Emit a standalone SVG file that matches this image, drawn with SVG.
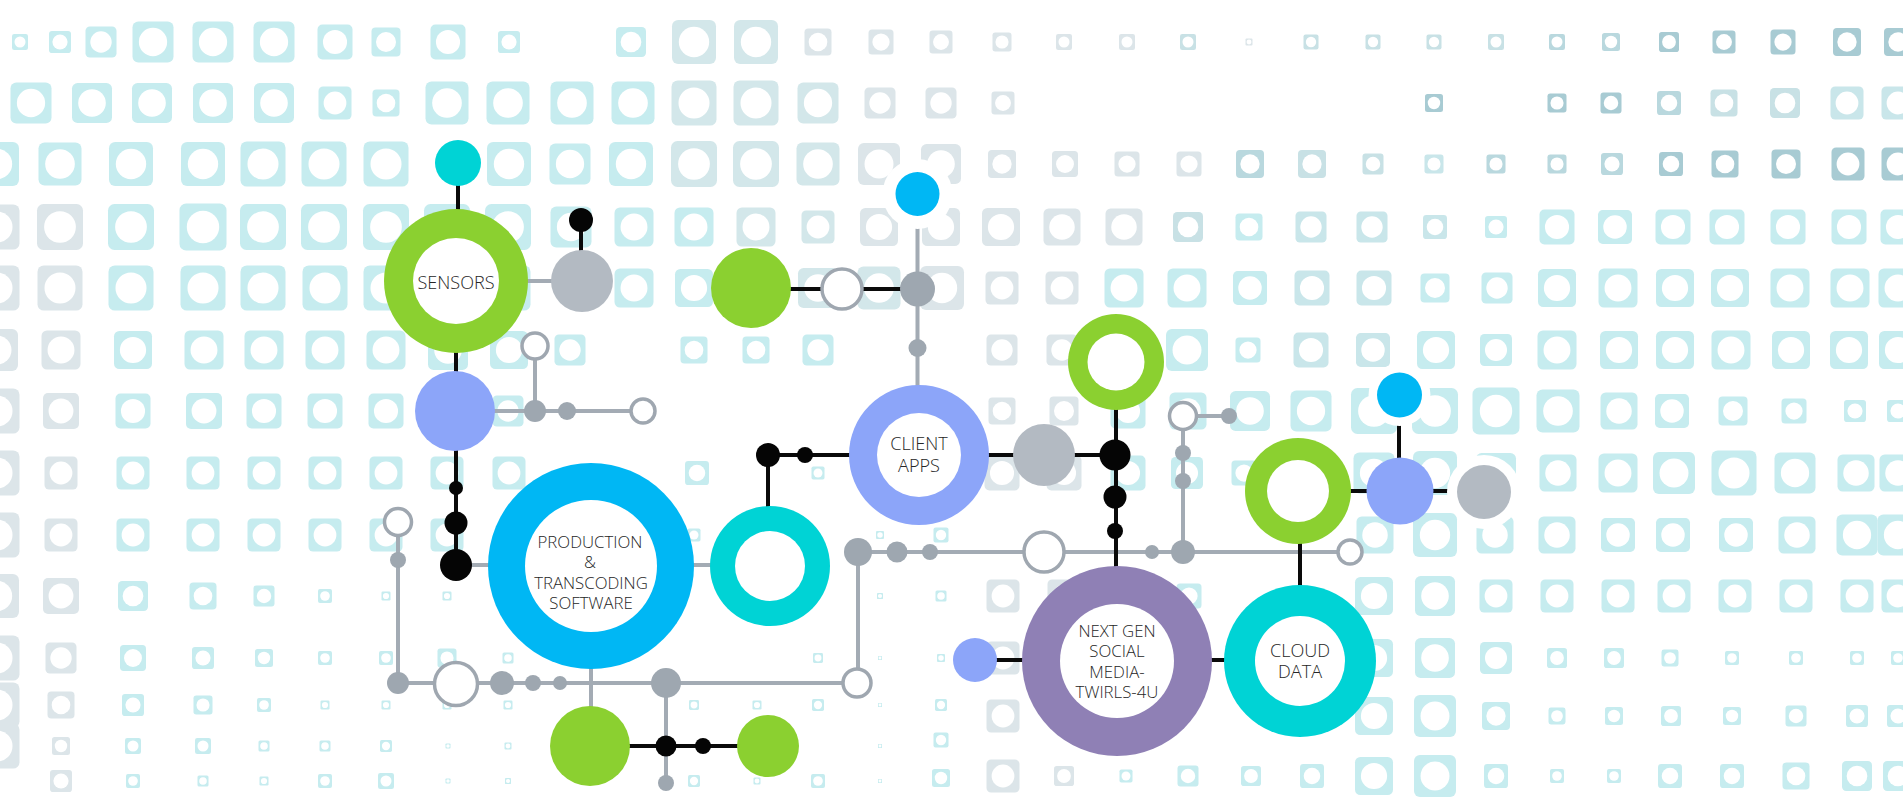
<svg xmlns="http://www.w3.org/2000/svg" xmlns:xlink="http://www.w3.org/1999/xlink" width="1903" height="798" viewBox="0 0 1903 798">
<style>
.a{fill:#c6ecef}.g{fill:#dce5e9}.m{fill:#d3e7ea}.v{fill:#c9e6ea}.t1{fill:#a8cbd3}.t2{fill:#b9d8de}.t3{fill:#c8e1e5}
.bk{stroke:#0a0a0a;stroke-width:4;fill:none}
.gy{stroke:#a3abb4;stroke-width:4;fill:none}
.hol{fill:#fff;stroke:#9fa7b0;stroke-width:3.5}
.gd{fill:#9ea7b0}.gn{fill:#b3bac2}.bd{fill:#050505}
.grn{fill:#8bd030}.cy{fill:#00d3d5}.bl{fill:#00b7f4}.pw{fill:#8ca5f9}.pu{fill:#8f80b5}.wh{fill:#fff}
.lbl{font-family:"Open Sans","Liberation Sans",sans-serif;font-weight:300;font-size:18.1px;fill:#262626;text-anchor:middle}
.sm{font-size:16.8px}
</style>
<defs>
<g id="q"><rect x="-.5" y="-.5" width="1" height="1" rx=".14"/><circle r=".345" fill="#fff"/></g>
</defs>
<rect width="1903" height="798" fill="#fff"/>
<g id="background">
<!-- row A -->
<use href="#q" class="a" transform="translate(20 42) scale(16)"/>
<use href="#q" class="a" transform="translate(60 42) scale(22)"/>
<use href="#q" class="a" transform="translate(101 42) scale(31)"/>
<use href="#q" class="a" transform="translate(153 42) scale(41)"/>
<use href="#q" class="a" transform="translate(213 42) scale(41)"/>
<use href="#q" class="a" transform="translate(274 42) scale(41)"/>
<use href="#q" class="a" transform="translate(335 42) scale(35)"/>
<use href="#q" class="a" transform="translate(386 42) scale(29)"/>
<use href="#q" class="a" transform="translate(448 42) scale(35)"/>
<use href="#q" class="a" transform="translate(509 42) scale(22)"/>
<use href="#q" class="a" transform="translate(631 42) scale(30)"/>
<use href="#q" class="m" transform="translate(694 42) scale(44)"/>
<use href="#q" class="m" transform="translate(756 42) scale(44)"/>
<use href="#q" class="g" transform="translate(818 42) scale(27)"/>
<use href="#q" class="g" transform="translate(881 42) scale(25)"/>
<use href="#q" class="g" transform="translate(941 42) scale(23)"/>
<use href="#q" class="g" transform="translate(1002 42) scale(19)"/>
<use href="#q" class="g" transform="translate(1064 42) scale(16)"/>
<use href="#q" class="g" transform="translate(1127 42) scale(16)"/>
<use href="#q" class="t3" transform="translate(1188 42) scale(16)"/>
<use href="#q" class="g" transform="translate(1249 42) scale(7)"/>
<use href="#q" class="t3" transform="translate(1311 42) scale(15)"/>
<use href="#q" class="t3" transform="translate(1373 42) scale(15)"/>
<use href="#q" class="t3" transform="translate(1434 42) scale(15)"/>
<use href="#q" class="t3" transform="translate(1496 42) scale(16)"/>
<use href="#q" class="t2" transform="translate(1557 42) scale(16)"/>
<use href="#q" class="t2" transform="translate(1611 42) scale(18)"/>
<use href="#q" class="t1" transform="translate(1669 42) scale(20)"/>
<use href="#q" class="t1" transform="translate(1724 42) scale(23)"/>
<use href="#q" class="t1" transform="translate(1783 42) scale(25)"/>
<use href="#q" class="t1" transform="translate(1847 42) scale(28)"/>
<use href="#q" class="t1" transform="translate(1898 42) scale(28)"/>
<!-- row B -->
<use href="#q" class="a" transform="translate(31 103) scale(41)"/>
<use href="#q" class="a" transform="translate(92 103) scale(40)"/>
<use href="#q" class="a" transform="translate(152 103) scale(40)"/>
<use href="#q" class="a" transform="translate(213 103) scale(40)"/>
<use href="#q" class="a" transform="translate(274 103) scale(40)"/>
<use href="#q" class="a" transform="translate(335 103) scale(33)"/>
<use href="#q" class="a" transform="translate(386 103) scale(27)"/>
<use href="#q" class="a" transform="translate(447 103) scale(43)"/>
<use href="#q" class="a" transform="translate(508 103) scale(43)"/>
<use href="#q" class="a" transform="translate(572 103) scale(43)"/>
<use href="#q" class="a" transform="translate(633 103) scale(43)"/>
<use href="#q" class="m" transform="translate(694 103) scale(45)"/>
<use href="#q" class="m" transform="translate(756 103) scale(45)"/>
<use href="#q" class="m" transform="translate(818 103) scale(41)"/>
<use href="#q" class="g" transform="translate(880 103) scale(31)"/>
<use href="#q" class="g" transform="translate(941 103) scale(31)"/>
<use href="#q" class="g" transform="translate(1003 103) scale(23)"/>
<use href="#q" class="t1" transform="translate(1434 103) scale(18)"/>
<use href="#q" class="t1" transform="translate(1557 103) scale(19)"/>
<use href="#q" class="t1" transform="translate(1611 103) scale(21)"/>
<use href="#q" class="t2" transform="translate(1669 103) scale(24)"/>
<use href="#q" class="t3" transform="translate(1724 103) scale(27)"/>
<use href="#q" class="t3" transform="translate(1785 103) scale(30)"/>
<use href="#q" class="v" transform="translate(1847 103) scale(33)"/>
<use href="#q" class="v" transform="translate(1898 103) scale(33)"/>
<!-- row C -->
<use href="#q" class="a" transform="translate(-3 164) scale(44)"/>
<use href="#q" class="a" transform="translate(60 164) scale(43)"/>
<use href="#q" class="a" transform="translate(131 164) scale(44)"/>
<use href="#q" class="a" transform="translate(203 164) scale(44)"/>
<use href="#q" class="a" transform="translate(263 164) scale(45)"/>
<use href="#q" class="a" transform="translate(324 164) scale(45)"/>
<use href="#q" class="a" transform="translate(386 164) scale(45)"/>
<use href="#q" class="a" transform="translate(509 164) scale(44)"/>
<use href="#q" class="a" transform="translate(570 164) scale(41)"/>
<use href="#q" class="a" transform="translate(631 164) scale(44)"/>
<use href="#q" class="m" transform="translate(694 164) scale(46)"/>
<use href="#q" class="m" transform="translate(756 164) scale(46)"/>
<use href="#q" class="m" transform="translate(818 164) scale(43)"/>
<use href="#q" class="g" transform="translate(879 164) scale(42)"/>
<use href="#q" class="g" transform="translate(941 164) scale(40)"/>
<use href="#q" class="g" transform="translate(1002 164) scale(28)"/>
<use href="#q" class="g" transform="translate(1065 164) scale(26)"/>
<use href="#q" class="g" transform="translate(1127 164) scale(25)"/>
<use href="#q" class="g" transform="translate(1189 164) scale(25)"/>
<use href="#q" class="t2" transform="translate(1250 164) scale(28)"/>
<use href="#q" class="t3" transform="translate(1312 164) scale(28)"/>
<use href="#q" class="t3" transform="translate(1373 164) scale(21)"/>
<use href="#q" class="v" transform="translate(1434 164) scale(19)"/>
<use href="#q" class="t2" transform="translate(1496 164) scale(19)"/>
<use href="#q" class="t2" transform="translate(1557 164) scale(19)"/>
<use href="#q" class="t2" transform="translate(1612 164) scale(22)"/>
<use href="#q" class="t1" transform="translate(1671 164) scale(24)"/>
<use href="#q" class="t1" transform="translate(1725 164) scale(27)"/>
<use href="#q" class="t1" transform="translate(1786 164) scale(29)"/>
<use href="#q" class="t1" transform="translate(1848 164) scale(33)"/>
<use href="#q" class="t1" transform="translate(1898 164) scale(33)"/>
<!-- row D -->
<use href="#q" class="g" transform="translate(-3 227) scale(45)"/>
<use href="#q" class="g" transform="translate(60 227) scale(46)"/>
<use href="#q" class="a" transform="translate(131 227) scale(46)"/>
<use href="#q" class="a" transform="translate(203 227) scale(47)"/>
<use href="#q" class="a" transform="translate(263 227) scale(46)"/>
<use href="#q" class="a" transform="translate(324 227) scale(46)"/>
<use href="#q" class="a" transform="translate(386 227) scale(46)"/>
<use href="#q" class="a" transform="translate(447 227) scale(46)"/>
<use href="#q" class="a" transform="translate(508 227) scale(46)"/>
<use href="#q" class="a" transform="translate(571 227) scale(41)"/>
<use href="#q" class="a" transform="translate(634 227) scale(39)"/>
<use href="#q" class="a" transform="translate(694 227) scale(39)"/>
<use href="#q" class="m" transform="translate(756 227) scale(39)"/>
<use href="#q" class="m" transform="translate(818 227) scale(33)"/>
<use href="#q" class="g" transform="translate(879 227) scale(38)"/>
<use href="#q" class="g" transform="translate(941 227) scale(38)"/>
<use href="#q" class="g" transform="translate(1001 227) scale(38)"/>
<use href="#q" class="g" transform="translate(1062 227) scale(37)"/>
<use href="#q" class="g" transform="translate(1124 227) scale(37)"/>
<use href="#q" class="t3" transform="translate(1188 227) scale(30)"/>
<use href="#q" class="a" transform="translate(1249 227) scale(27)"/>
<use href="#q" class="v" transform="translate(1311 227) scale(31)"/>
<use href="#q" class="v" transform="translate(1372 227) scale(31)"/>
<use href="#q" class="v" transform="translate(1435 227) scale(24)"/>
<use href="#q" class="a" transform="translate(1496 227) scale(22)"/>
<use href="#q" class="a" transform="translate(1557 227) scale(35)"/>
<use href="#q" class="a" transform="translate(1615 227) scale(34)"/>
<use href="#q" class="a" transform="translate(1673 227) scale(35)"/>
<use href="#q" class="a" transform="translate(1727 227) scale(35)"/>
<use href="#q" class="a" transform="translate(1788 227) scale(35)"/>
<use href="#q" class="a" transform="translate(1849 227) scale(35)"/>
<use href="#q" class="a" transform="translate(1898 227) scale(35)"/>
<!-- row E -->
<use href="#q" class="g" transform="translate(-3 288) scale(45)"/>
<use href="#q" class="g" transform="translate(60 288) scale(45)"/>
<use href="#q" class="a" transform="translate(131 288) scale(45)"/>
<use href="#q" class="a" transform="translate(203 288) scale(45)"/>
<use href="#q" class="a" transform="translate(263 288) scale(45)"/>
<use href="#q" class="a" transform="translate(325 288) scale(45)"/>
<use href="#q" class="a" transform="translate(386 288) scale(45)"/>
<use href="#q" class="a" transform="translate(508 288) scale(45)"/>
<use href="#q" class="a" transform="translate(634 288) scale(39)"/>
<use href="#q" class="a" transform="translate(694 288) scale(38)"/>
<use href="#q" class="m" transform="translate(818 288) scale(40)"/>
<use href="#q" class="m" transform="translate(879 288) scale(43)"/>
<use href="#q" class="g" transform="translate(942 288) scale(44)"/>
<use href="#q" class="g" transform="translate(1002 288) scale(33)"/>
<use href="#q" class="g" transform="translate(1062 288) scale(33)"/>
<use href="#q" class="a" transform="translate(1124 288) scale(39)"/>
<use href="#q" class="a" transform="translate(1187 288) scale(39)"/>
<use href="#q" class="a" transform="translate(1250 288) scale(34)"/>
<use href="#q" class="v" transform="translate(1312 288) scale(35)"/>
<use href="#q" class="v" transform="translate(1374 288) scale(35)"/>
<use href="#q" class="a" transform="translate(1435 288) scale(29)"/>
<use href="#q" class="a" transform="translate(1497 288) scale(31)"/>
<use href="#q" class="a" transform="translate(1557 288) scale(38)"/>
<use href="#q" class="a" transform="translate(1618 288) scale(39)"/>
<use href="#q" class="a" transform="translate(1675 288) scale(38)"/>
<use href="#q" class="a" transform="translate(1730 288) scale(38)"/>
<use href="#q" class="a" transform="translate(1790 288) scale(39)"/>
<use href="#q" class="a" transform="translate(1850 288) scale(39)"/>
<use href="#q" class="a" transform="translate(1898 288) scale(39)"/>
<!-- row F -->
<use href="#q" class="g" transform="translate(-3 350) scale(42)"/>
<use href="#q" class="g" transform="translate(61 350) scale(39)"/>
<use href="#q" class="a" transform="translate(133 350) scale(38)"/>
<use href="#q" class="a" transform="translate(204 350) scale(39)"/>
<use href="#q" class="a" transform="translate(264 350) scale(39)"/>
<use href="#q" class="a" transform="translate(325 350) scale(39)"/>
<use href="#q" class="a" transform="translate(386 350) scale(39)"/>
<use href="#q" class="a" transform="translate(448 350) scale(40)"/>
<use href="#q" class="a" transform="translate(509 350) scale(38)"/>
<use href="#q" class="a" transform="translate(570 350) scale(31)"/>
<use href="#q" class="a" transform="translate(694 350) scale(27)"/>
<use href="#q" class="a" transform="translate(756 350) scale(27)"/>
<use href="#q" class="a" transform="translate(818 350) scale(31)"/>
<use href="#q" class="g" transform="translate(1002 350) scale(31)"/>
<use href="#q" class="g" transform="translate(1062 350) scale(31)"/>
<use href="#q" class="a" transform="translate(1187 350) scale(42)"/>
<use href="#q" class="a" transform="translate(1248 350) scale(25)"/>
<use href="#q" class="v" transform="translate(1311 350) scale(35)"/>
<use href="#q" class="v" transform="translate(1373 350) scale(34)"/>
<use href="#q" class="a" transform="translate(1436 350) scale(38)"/>
<use href="#q" class="a" transform="translate(1496 350) scale(32)"/>
<use href="#q" class="a" transform="translate(1557 350) scale(39)"/>
<use href="#q" class="a" transform="translate(1619 350) scale(38)"/>
<use href="#q" class="a" transform="translate(1675 350) scale(38)"/>
<use href="#q" class="a" transform="translate(1731 350) scale(39)"/>
<use href="#q" class="a" transform="translate(1791 350) scale(38)"/>
<use href="#q" class="a" transform="translate(1849 350) scale(38)"/>
<use href="#q" class="a" transform="translate(1898 350) scale(38)"/>
<!-- row G -->
<use href="#q" class="g" transform="translate(-3 411) scale(45)"/>
<use href="#q" class="g" transform="translate(61 411) scale(36)"/>
<use href="#q" class="a" transform="translate(133 411) scale(35)"/>
<use href="#q" class="a" transform="translate(204 411) scale(36)"/>
<use href="#q" class="a" transform="translate(264 411) scale(35)"/>
<use href="#q" class="a" transform="translate(325 411) scale(35)"/>
<use href="#q" class="a" transform="translate(386 411) scale(35)"/>
<use href="#q" class="a" transform="translate(508 411) scale(31)"/>
<use href="#q" class="g" transform="translate(1002 411) scale(27)"/>
<use href="#q" class="g" transform="translate(1064 411) scale(29)"/>
<use href="#q" class="a" transform="translate(1128 411) scale(35)"/>
<use href="#q" class="a" transform="translate(1188 411) scale(37)"/>
<use href="#q" class="a" transform="translate(1250 411) scale(40)"/>
<use href="#q" class="a" transform="translate(1311 411) scale(41)"/>
<use href="#q" class="a" transform="translate(1374 411) scale(46)"/>
<use href="#q" class="a" transform="translate(1435 411) scale(46)"/>
<use href="#q" class="a" transform="translate(1496 411) scale(47)"/>
<use href="#q" class="a" transform="translate(1558 411) scale(43)"/>
<use href="#q" class="a" transform="translate(1619 411) scale(37)"/>
<use href="#q" class="a" transform="translate(1672 411) scale(34)"/>
<use href="#q" class="a" transform="translate(1733 411) scale(29)"/>
<use href="#q" class="a" transform="translate(1794 411) scale(25)"/>
<use href="#q" class="a" transform="translate(1855 411) scale(22)"/>
<use href="#q" class="a" transform="translate(1898 411) scale(22)"/>
<!-- row H -->
<use href="#q" class="g" transform="translate(-3 473) scale(45)"/>
<use href="#q" class="g" transform="translate(61 473) scale(33)"/>
<use href="#q" class="a" transform="translate(133 473) scale(33)"/>
<use href="#q" class="a" transform="translate(203 473) scale(33)"/>
<use href="#q" class="a" transform="translate(264 473) scale(33)"/>
<use href="#q" class="a" transform="translate(325 473) scale(33)"/>
<use href="#q" class="a" transform="translate(386 473) scale(33)"/>
<use href="#q" class="a" transform="translate(447 473) scale(33)"/>
<use href="#q" class="a" transform="translate(509 473) scale(33)"/>
<use href="#q" class="a" transform="translate(697 473) scale(24)"/>
<use href="#q" class="a" transform="translate(818 473) scale(13)"/>
<use href="#q" class="g" transform="translate(1002 473) scale(35)"/>
<use href="#q" class="g" transform="translate(1064 473) scale(35)"/>
<use href="#q" class="a" transform="translate(1128 473) scale(35)"/>
<use href="#q" class="a" transform="translate(1187 473) scale(32)"/>
<use href="#q" class="a" transform="translate(1244 473) scale(25)"/>
<use href="#q" class="a" transform="translate(1374 473) scale(41)"/>
<use href="#q" class="a" transform="translate(1435 473) scale(44)"/>
<use href="#q" class="a" transform="translate(1496 473) scale(40)"/>
<use href="#q" class="a" transform="translate(1558 473) scale(37)"/>
<use href="#q" class="a" transform="translate(1618 473) scale(39)"/>
<use href="#q" class="a" transform="translate(1674 473) scale(42)"/>
<use href="#q" class="a" transform="translate(1734 473) scale(45)"/>
<use href="#q" class="a" transform="translate(1795 473) scale(41)"/>
<use href="#q" class="a" transform="translate(1856 473) scale(37)"/>
<use href="#q" class="a" transform="translate(1898 473) scale(37)"/>
<!-- row I -->
<use href="#q" class="g" transform="translate(-3 535) scale(45)"/>
<use href="#q" class="g" transform="translate(61 535) scale(33)"/>
<use href="#q" class="a" transform="translate(133 535) scale(33)"/>
<use href="#q" class="a" transform="translate(203 535) scale(33)"/>
<use href="#q" class="a" transform="translate(264 535) scale(33)"/>
<use href="#q" class="a" transform="translate(325 535) scale(33)"/>
<use href="#q" class="a" transform="translate(386 535) scale(33)"/>
<use href="#q" class="a" transform="translate(447 535) scale(33)"/>
<use href="#q" class="a" transform="translate(694 535) scale(13)"/>
<use href="#q" class="a" transform="translate(880 535) scale(8)"/>
<use href="#q" class="a" transform="translate(941 535) scale(15)"/>
<use href="#q" class="a" transform="translate(1375 535) scale(37)"/>
<use href="#q" class="a" transform="translate(1435 535) scale(44)"/>
<use href="#q" class="a" transform="translate(1495 535) scale(37)"/>
<use href="#q" class="a" transform="translate(1557 535) scale(37)"/>
<use href="#q" class="a" transform="translate(1618 535) scale(34)"/>
<use href="#q" class="a" transform="translate(1673 535) scale(34)"/>
<use href="#q" class="a" transform="translate(1736 535) scale(34)"/>
<use href="#q" class="a" transform="translate(1797 535) scale(37)"/>
<use href="#q" class="a" transform="translate(1857 535) scale(41)"/>
<use href="#q" class="a" transform="translate(1898 535) scale(41)"/>
<!-- row J -->
<use href="#q" class="g" transform="translate(-3 596) scale(44)"/>
<use href="#q" class="g" transform="translate(61 596) scale(36)"/>
<use href="#q" class="a" transform="translate(133 596) scale(30)"/>
<use href="#q" class="a" transform="translate(203 596) scale(27)"/>
<use href="#q" class="a" transform="translate(264 596) scale(21)"/>
<use href="#q" class="a" transform="translate(325 596) scale(14)"/>
<use href="#q" class="a" transform="translate(386 596) scale(9)"/>
<use href="#q" class="a" transform="translate(447 596) scale(9)"/>
<use href="#q" class="a" transform="translate(880 596) scale(6)"/>
<use href="#q" class="a" transform="translate(941 596) scale(11)"/>
<use href="#q" class="g" transform="translate(1003 596) scale(33)"/>
<use href="#q" class="g" transform="translate(1064 596) scale(33)"/>
<use href="#q" class="a" transform="translate(1189 596) scale(25)"/>
<use href="#q" class="a" transform="translate(1374 596) scale(38)"/>
<use href="#q" class="a" transform="translate(1435 596) scale(40)"/>
<use href="#q" class="a" transform="translate(1496 596) scale(33)"/>
<use href="#q" class="a" transform="translate(1557 596) scale(33)"/>
<use href="#q" class="a" transform="translate(1618 596) scale(33)"/>
<use href="#q" class="a" transform="translate(1674 596) scale(33)"/>
<use href="#q" class="a" transform="translate(1735 596) scale(33)"/>
<use href="#q" class="a" transform="translate(1796 596) scale(33)"/>
<use href="#q" class="a" transform="translate(1857 596) scale(33)"/>
<use href="#q" class="a" transform="translate(1898 596) scale(33)"/>
<!-- row K -->
<use href="#q" class="g" transform="translate(-3 658) scale(45)"/>
<use href="#q" class="g" transform="translate(61 658) scale(31)"/>
<use href="#q" class="a" transform="translate(133 658) scale(26)"/>
<use href="#q" class="a" transform="translate(203 658) scale(22)"/>
<use href="#q" class="a" transform="translate(264 658) scale(18)"/>
<use href="#q" class="a" transform="translate(325 658) scale(14)"/>
<use href="#q" class="a" transform="translate(386 658) scale(14)"/>
<use href="#q" class="a" transform="translate(447 658) scale(19)"/>
<use href="#q" class="a" transform="translate(508 658) scale(11)"/>
<use href="#q" class="a" transform="translate(818 658) scale(10)"/>
<use href="#q" class="a" transform="translate(880 658) scale(4)"/>
<use href="#q" class="a" transform="translate(941 658) scale(8)"/>
<use href="#q" class="g" transform="translate(1003 658) scale(33)"/>
<use href="#q" class="a" transform="translate(1374 658) scale(38)"/>
<use href="#q" class="a" transform="translate(1435 658) scale(40)"/>
<use href="#q" class="a" transform="translate(1496 658) scale(32)"/>
<use href="#q" class="a" transform="translate(1557 658) scale(20)"/>
<use href="#q" class="a" transform="translate(1614 658) scale(20)"/>
<use href="#q" class="a" transform="translate(1670 658) scale(17)"/>
<use href="#q" class="a" transform="translate(1732 658) scale(14)"/>
<use href="#q" class="a" transform="translate(1796 658) scale(14)"/>
<use href="#q" class="a" transform="translate(1857 658) scale(14)"/>
<use href="#q" class="a" transform="translate(1898 658) scale(14)"/>
<!-- row L left -->
<use href="#q" class="g" transform="translate(-3 705) scale(45)"/>
<use href="#q" class="g" transform="translate(61 705) scale(27)"/>
<use href="#q" class="a" transform="translate(133 705) scale(22)"/>
<use href="#q" class="a" transform="translate(203 705) scale(19)"/>
<use href="#q" class="a" transform="translate(264 705) scale(14)"/>
<use href="#q" class="a" transform="translate(325 705) scale(9)"/>
<use href="#q" class="a" transform="translate(386 705) scale(9)"/>
<use href="#q" class="a" transform="translate(447 705) scale(9)"/>
<use href="#q" class="a" transform="translate(508 705) scale(9)"/>
<use href="#q" class="a" transform="translate(694 705) scale(10)"/>
<use href="#q" class="a" transform="translate(757 705) scale(9)"/>
<use href="#q" class="a" transform="translate(818 705) scale(12)"/>
<use href="#q" class="a" transform="translate(880 705) scale(4)"/>
<use href="#q" class="a" transform="translate(941 705) scale(12)"/>
<!-- row M left -->
<use href="#q" class="g" transform="translate(-3 746) scale(45)"/>
<use href="#q" class="g" transform="translate(61 746) scale(18)"/>
<use href="#q" class="a" transform="translate(133 746) scale(16)"/>
<use href="#q" class="a" transform="translate(203 746) scale(16)"/>
<use href="#q" class="a" transform="translate(264 746) scale(11)"/>
<use href="#q" class="a" transform="translate(325 746) scale(11)"/>
<use href="#q" class="a" transform="translate(386 746) scale(12)"/>
<use href="#q" class="a" transform="translate(448 746) scale(5)"/>
<use href="#q" class="a" transform="translate(508 746) scale(7)"/>
<use href="#q" class="a" transform="translate(880 746) scale(4)"/>
<use href="#q" class="a" transform="translate(941 740) scale(15)"/>
<!-- row N left -->
<use href="#q" class="g" transform="translate(61 781) scale(22)"/>
<use href="#q" class="a" transform="translate(133 781) scale(14)"/>
<use href="#q" class="a" transform="translate(203 781) scale(11)"/>
<use href="#q" class="a" transform="translate(264 781) scale(9)"/>
<use href="#q" class="a" transform="translate(325 781) scale(14)"/>
<use href="#q" class="a" transform="translate(386 781) scale(16)"/>
<use href="#q" class="a" transform="translate(448 781) scale(5)"/>
<use href="#q" class="a" transform="translate(508 781) scale(6)"/>
<use href="#q" class="a" transform="translate(694 781) scale(12)"/>
<use href="#q" class="a" transform="translate(757 781) scale(7)"/>
<use href="#q" class="a" transform="translate(818 781) scale(14)"/>
<use href="#q" class="a" transform="translate(880 781) scale(4)"/>
<use href="#q" class="a" transform="translate(941 778) scale(18)"/>
<!-- bottom right rows -->
<use href="#q" class="g" transform="translate(1003 716) scale(33)"/>
<use href="#q" class="a" transform="translate(1374 716) scale(38)"/>
<use href="#q" class="a" transform="translate(1435 716) scale(42)"/>
<use href="#q" class="a" transform="translate(1496 716) scale(28)"/>
<use href="#q" class="a" transform="translate(1557 716) scale(17)"/>
<use href="#q" class="a" transform="translate(1614 716) scale(18)"/>
<use href="#q" class="a" transform="translate(1671 716) scale(20)"/>
<use href="#q" class="a" transform="translate(1732 716) scale(18)"/>
<use href="#q" class="a" transform="translate(1796 716) scale(21)"/>
<use href="#q" class="a" transform="translate(1857 716) scale(22)"/>
<use href="#q" class="a" transform="translate(1898 716) scale(22)"/>
<use href="#q" class="g" transform="translate(1003 776) scale(33)"/>
<use href="#q" class="g" transform="translate(1064 776) scale(20)"/>
<use href="#q" class="a" transform="translate(1126 776) scale(13)"/>
<use href="#q" class="a" transform="translate(1188 776) scale(21)"/>
<use href="#q" class="a" transform="translate(1251 776) scale(20)"/>
<use href="#q" class="a" transform="translate(1312 776) scale(24)"/>
<use href="#q" class="a" transform="translate(1374 776) scale(38)"/>
<use href="#q" class="a" transform="translate(1435 776) scale(42)"/>
<use href="#q" class="a" transform="translate(1496 776) scale(24)"/>
<use href="#q" class="a" transform="translate(1557 776) scale(14)"/>
<use href="#q" class="a" transform="translate(1614 776) scale(14)"/>
<use href="#q" class="a" transform="translate(1670 776) scale(24)"/>
<use href="#q" class="a" transform="translate(1732 776) scale(24)"/>
<use href="#q" class="a" transform="translate(1796 776) scale(27)"/>
<use href="#q" class="a" transform="translate(1857 776) scale(30)"/>
<use href="#q" class="a" transform="translate(1898 776) scale(30)"/>
</g>
<g id="connectors">
<g class="gy">
<line x1="456" y1="281" x2="582" y2="281"/>
<line x1="455" y1="411" x2="643" y2="411"/>
<line x1="535" y1="346" x2="535" y2="411"/>
<line x1="456" y1="565" x2="770" y2="565"/>
<line x1="398" y1="522" x2="398" y2="683"/>
<line x1="398" y1="683" x2="857" y2="683"/>
<line x1="591" y1="566" x2="591" y2="746"/>
<line x1="666" y1="683" x2="666" y2="783"/>
<line x1="917.5" y1="194" x2="917.5" y2="455"/>
<line x1="858" y1="552" x2="1350" y2="552"/>
<line x1="858" y1="552" x2="858" y2="683"/>
<line x1="1183" y1="416" x2="1183" y2="552"/>
<line x1="1183" y1="416" x2="1229" y2="416"/>
</g>
<g class="bk">
<line x1="458" y1="163" x2="458" y2="281"/>
<line x1="456" y1="281" x2="456" y2="565"/>
<line x1="581" y1="220" x2="581" y2="281"/>
<line x1="751" y1="289" x2="917.5" y2="289"/>
<line x1="768" y1="455" x2="1115" y2="455"/>
<line x1="768" y1="455" x2="768" y2="566"/>
<line x1="1116" y1="362" x2="1116" y2="661"/>
<line x1="975" y1="660" x2="1300" y2="660"/>
<line x1="1300" y1="491" x2="1300" y2="661"/>
<line x1="1298" y1="491" x2="1483" y2="491"/>
<line x1="1399" y1="394" x2="1399" y2="491"/>
<line x1="590" y1="746" x2="768" y2="746"/>
</g>
</g>
<g id="n-sensors-top"><circle class="cy" cx="458" cy="163" r="23"/></g>
<g id="n-sensors"><circle class="grn" cx="456" cy="281" r="72"/><circle class="wh" cx="456" cy="281" r="43"/><text class="lbl" x="456" y="288.5">SENSORS</text></g>
<g id="n-b1"><circle class="bd" cx="581" cy="220" r="12"/></g>
<g id="n-g1"><circle class="gn" cx="582" cy="281" r="31"/></g>
<g id="n-w1"><circle class="hol" cx="535" cy="346" r="13"/></g>
<g id="n-p1"><circle class="pw" cx="455" cy="411" r="40"/></g>
<g id="n-d1"><circle class="gd" cx="535" cy="411" r="11"/><circle class="gd" cx="567" cy="411" r="9"/></g>
<g id="n-w2"><circle class="hol" cx="643" cy="411" r="12"/></g>
<g id="n-bd-chain"><circle class="bd" cx="456" cy="488" r="7"/><circle class="bd" cx="456" cy="523" r="11.5"/><circle class="bd" cx="456" cy="565" r="16"/></g>
<g id="n-production"><circle class="bl" cx="591" cy="566" r="103"/><circle class="wh" cx="591" cy="566" r="66"/>
<text class="lbl sm" x="590" y="547.5">PRODUCTION</text><text class="lbl sm" x="590" y="568">&amp;</text><text class="lbl sm" x="591" y="588.5">TRANSCODING</text><text class="lbl sm" x="591" y="608.5">SOFTWARE</text></g>
<g id="n-teal"><circle class="cy" cx="770" cy="566" r="60"/><circle class="wh" cx="770" cy="566" r="35"/></g>
<g id="n-left-branch"><circle class="hol" cx="398" cy="522" r="13.5"/><circle class="gd" cx="398" cy="560" r="8"/><circle class="gd" cx="398" cy="683" r="11"/></g>
<g id="n-bottom-row"><circle class="hol" cx="456" cy="684" r="21.5"/><circle class="gd" cx="502" cy="683" r="12"/><circle class="gd" cx="533" cy="683" r="8"/><circle class="gd" cx="560" cy="683" r="7"/><circle class="gd" cx="666" cy="683" r="15"/><circle class="hol" cx="857" cy="683" r="14"/><circle class="gd" cx="666" cy="783" r="8"/></g>
<g id="n-green-bottom"><circle class="grn" cx="590" cy="746" r="40"/><circle class="bd" cx="666" cy="746" r="10.5"/><circle class="bd" cx="703" cy="746" r="8"/><circle class="grn" cx="768" cy="746" r="31"/></g>
<g id="n-mid-row"><circle class="gd" cx="858" cy="552" r="14"/><circle class="gd" cx="897" cy="552" r="10.5"/><circle class="gd" cx="930" cy="552" r="8"/><circle class="hol" cx="1044" cy="552" r="20"/><circle class="gd" cx="1152" cy="552" r="7"/><circle class="gd" cx="1183" cy="552" r="12"/><circle class="hol" cx="1350" cy="552" r="12"/></g>
<g id="n-top-mid"><circle class="grn" cx="751" cy="288" r="40"/><circle class="hol" cx="842" cy="289" r="20"/><circle class="gd" cx="917.5" cy="289" r="17.5"/><circle class="gd" cx="917.5" cy="348" r="9"/></g>
<g id="n-blue-top"><circle class="wh" cx="917.5" cy="194" r="35"/><circle class="bl" cx="917.5" cy="194" r="22"/></g>
<g id="n-client-links"><circle class="bd" cx="768" cy="455" r="12"/><circle class="bd" cx="805" cy="455" r="8"/></g>
<g id="n-client"><circle class="pw" cx="919" cy="455" r="70"/><circle class="wh" cx="919" cy="455" r="42"/><text class="lbl" x="919" y="450">CLIENT</text><text class="lbl" x="919" y="471.5">APPS</text></g>
<g id="n-g2"><circle class="gn" cx="1044" cy="455" r="31"/></g>
<g id="n-vert-chain"><circle class="bd" cx="1115" cy="455" r="15.5"/><circle class="bd" cx="1115" cy="497" r="11.5"/><circle class="bd" cx="1115" cy="531" r="8"/></g>
<g id="n-green-ring-top"><circle class="grn" cx="1116" cy="362" r="48"/><circle class="wh" cx="1116" cy="362" r="28.5"/></g>
<g id="n-right-branch"><circle class="hol" cx="1183" cy="416" r="13.5"/><circle class="gd" cx="1229" cy="416" r="8"/><circle class="gd" cx="1183" cy="453" r="8"/><circle class="gd" cx="1183" cy="481" r="8"/></g>
<g id="n-social"><circle class="pu" cx="1117" cy="661" r="95"/><circle class="wh" cx="1117" cy="661" r="57"/>
<text class="lbl sm" x="1117" y="637">NEXT GEN</text><text class="lbl sm" x="1117" y="657">SOCIAL</text><text class="lbl sm" x="1117" y="678">MEDIA-</text><text class="lbl sm" x="1117" y="698">TWIRLS-4U</text></g>
<g id="n-p2"><circle class="pw" cx="975" cy="660" r="22"/></g>
<g id="n-cloud"><circle class="cy" cx="1300" cy="661" r="76"/><circle class="wh" cx="1300" cy="661" r="45"/><text class="lbl" x="1300" y="657">CLOUD</text><text class="lbl" x="1300" y="678">DATA</text></g>
<g id="n-green-ring-right"><circle class="grn" cx="1298" cy="491" r="53"/><circle class="wh" cx="1298" cy="491" r="31"/></g>
<g id="n-p3"><circle class="pw" cx="1400" cy="491" r="33.5"/></g>
<g id="n-g3"><circle class="wh" cx="1484" cy="492" r="37"/><circle class="gn" cx="1484" cy="492" r="27"/></g>
<g id="n-blue-right"><circle class="wh" cx="1399.5" cy="395" r="31"/><circle class="bl" cx="1399.5" cy="395" r="22.5"/></g>
</svg>
